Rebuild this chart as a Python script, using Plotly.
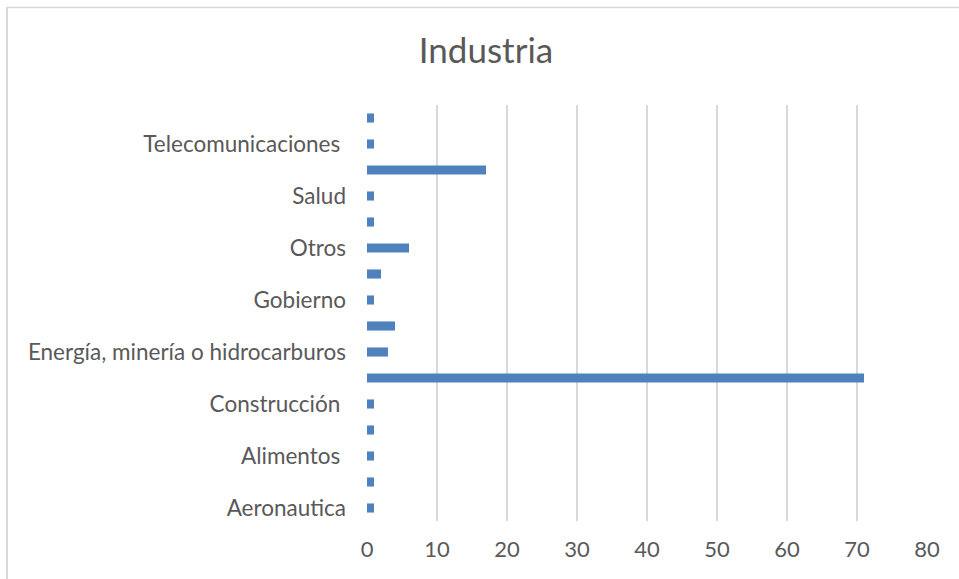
import plotly.graph_objects as go

categories = [
    "Aeronautica", "Agricultura", "Alimentos\u00a0", "Banca", "Construcción\u00a0",
    "Consultoría", "Energía, minería o hidrocarburos", "Financiero", "Gobierno",
    "Manufactura", "Otros", "Retail", "Salud", "Tecnología",
    "Telecomunicaciones\u00a0", "Transporte",
]
values = [1, 1, 1, 1, 1, 71, 3, 4, 1, 2, 6, 1, 1, 17, 1, 1]
shown_labels = categories[::2]
x_ticks = [0, 10, 20, 30, 40, 50, 60, 70, 80]

FONT = "Lato"
W, H = 959, 579
PL, PR, PT, PB = 367, 927, 105, 521  # plot area in page pixels
PW, PH = PR - PL, PB - PT


def px(x):
    return (x - PL) / PW


def py(y):
    return (PB - y) / PH


fig = go.Figure(go.Bar(
    x=values, y=categories, orientation="h",
    marker=dict(color="#4F81BD", line=dict(width=0)),
))
fig.update_layout(
    width=W, height=H,
    paper_bgcolor="white", plot_bgcolor="white",
    margin=dict(l=PL, r=W - PR, t=PT, b=H - PB),
    bargap=0.65,
    showlegend=False,
    font=dict(family=FONT, color="#595959", size=22.5),
    title=dict(text="Industria", x=486 / W, xanchor="center", xref="container",
               y=1 - 51 / H, yanchor="middle", yref="container",
               font=dict(family=FONT, size=35, color="#595959")),
    xaxis=dict(range=[0, 80], tickvals=x_ticks, showgrid=True, gridcolor="#D9D9D9",
               gridwidth=1.5, zeroline=False, showline=False, ticks="",
               ticklabelstandoff=13, tickfont=dict(size=22)),
    yaxis=dict(type="category", categoryorder="array", categoryarray=categories,
               tickvals=shown_labels, showgrid=False, zeroline=False, showline=False,
               ticks="", ticklabelstandoff=20, range=[-0.5, 15.5],
               tickfont=dict(size=22.5)),
    shapes=[
        dict(type="line", xref="paper", yref="paper", x0=px(7), x1=px(980),
             y0=py(7.5), y1=py(7.5), line=dict(color="#D9D9D9", width=1.3), layer="below"),
        dict(type="line", xref="paper", yref="paper", x0=px(7), x1=px(7),
             y0=py(7), y1=py(600), line=dict(color="#D9D9D9", width=2), layer="below"),
    ],
)
fig.write_html("out.html", config={"displayModeBar": False},
               post_script="document.body.style.margin='0';")
